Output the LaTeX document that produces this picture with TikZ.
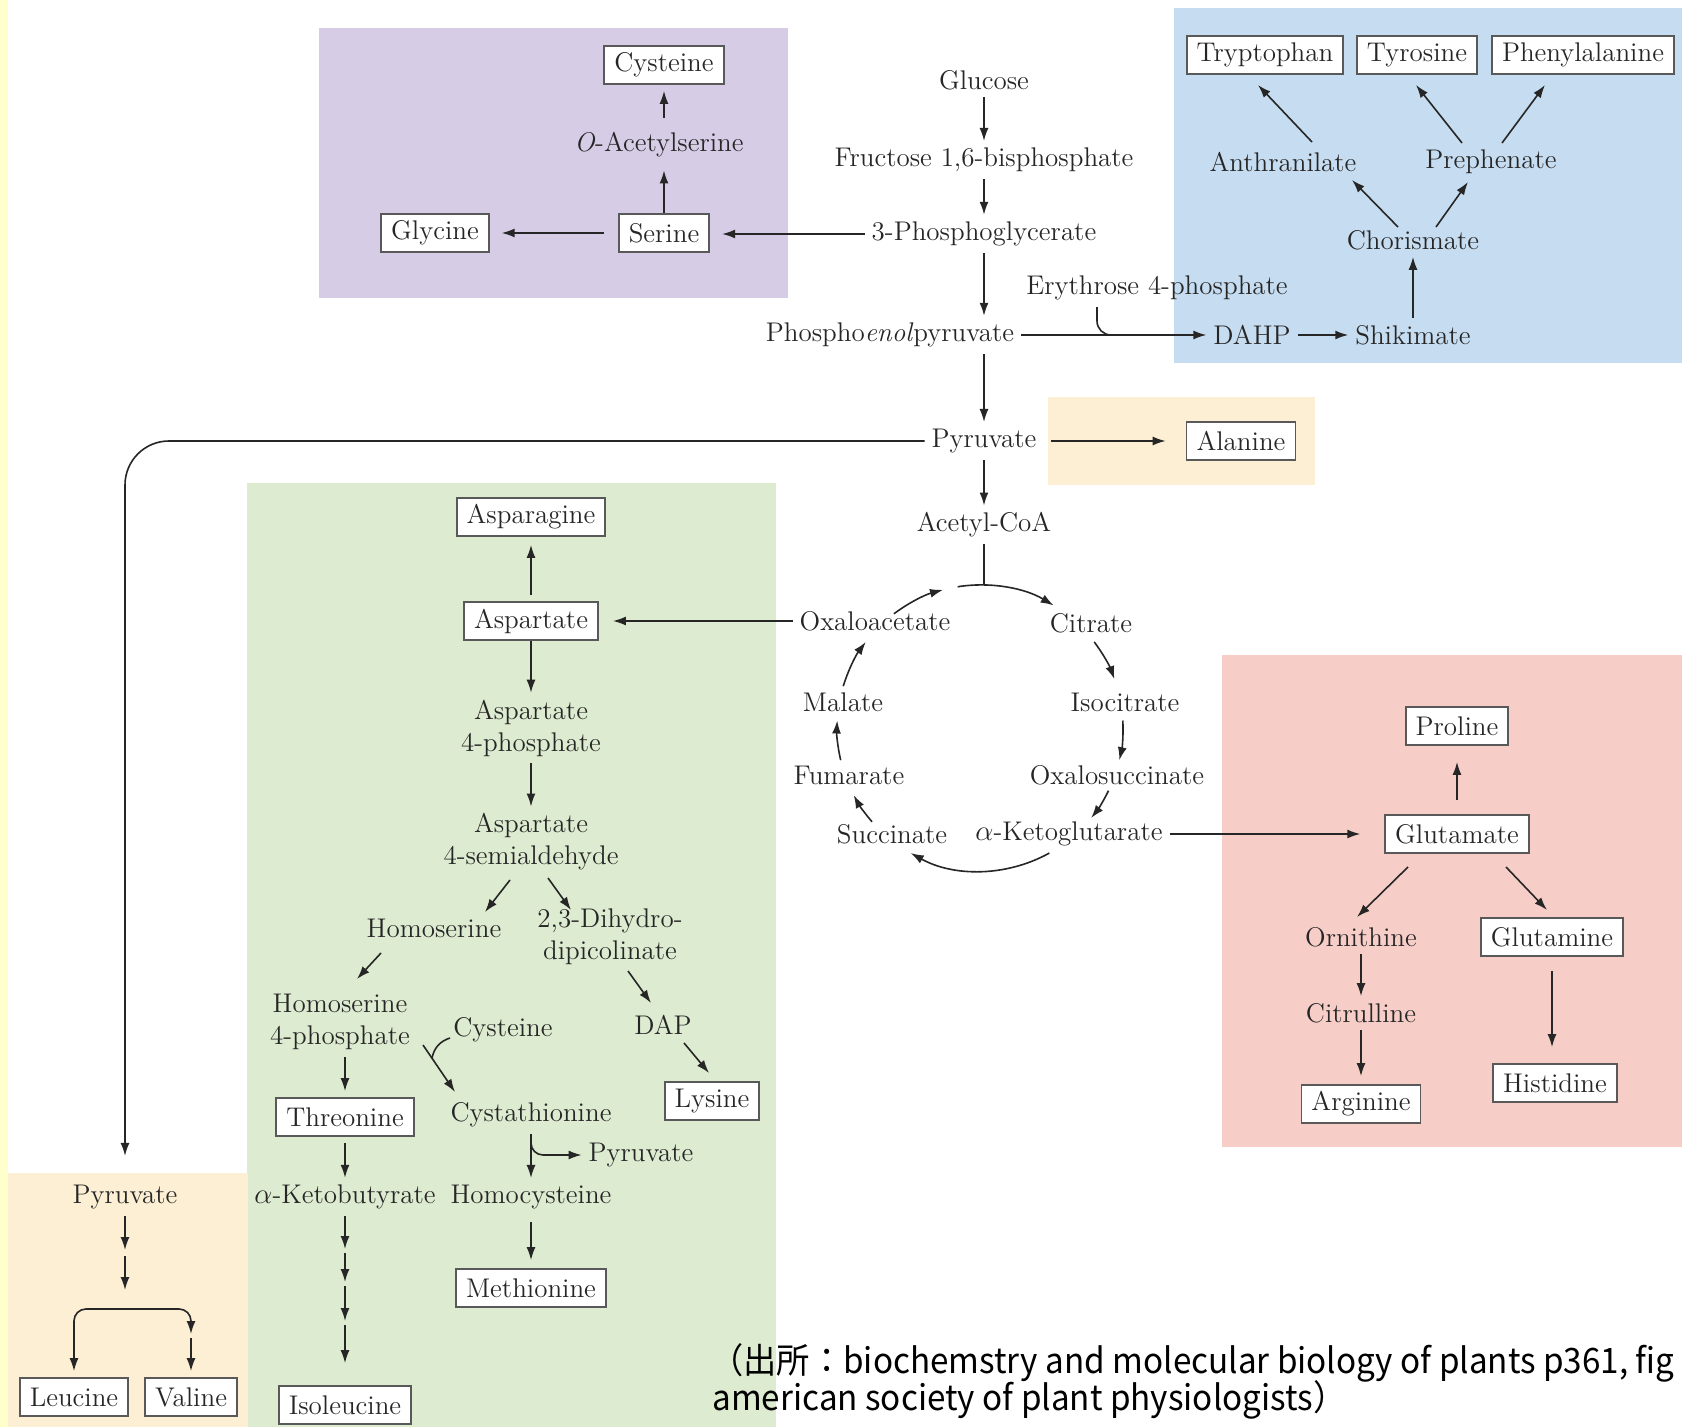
\documentclass[tikz,border=0pt]{standalone}
\usepackage{fontspec}
\newfontfamily\cjkfont[FakeStretch=0.95]{Noto Sans CJK JP}
\usepackage{xcolor}
\usepackage{tikz}
\usetikzlibrary{arrows.meta}
\usepackage{amsmath, amssymb}

\definecolor{serbg}{HTML}{D7CCE6}
\definecolor{arobg}{HTML}{C6DCF0}
\definecolor{pyrbg}{HTML}{FCEFD3}
\definecolor{aspbg}{HTML}{DDEBD0}
\definecolor{glubg}{HTML}{F7CDC8}
\definecolor{edgebg}{HTML}{FFFFCC}

\tikzset{
  lbl/.style={text=black!85, font=\fontsize{13.5}{16}\selectfont, align=center},
  aa/.style={lbl, draw=black!65, fill=white, line width=0.9pt, inner xsep=5pt, inner ysep=3pt, minimum height=19pt},
  arr/.style={draw=black!85, line width=0.8pt, -{Latex[length=6.5pt,width=4.5pt]}},
  conn/.style={draw=black!85, line width=0.8pt},
  src/.style={anchor=base west, inner sep=0pt, text=black, font=\cjkfont\fontsize{17.5}{20}\selectfont}
}

\begin{document}
\begin{tikzpicture}[x=0.5pt, y=0.5pt]
\useasboundingbox (0,0) rectangle (1682,-1427);
\clip (0,0) rectangle (1682,-1427);
%	coloured panels
\fill[white] (0,0) rectangle (1682,-1427);
\fill[edgebg] (0,0) rectangle (8,-1427);
\fill[serbg] (319,-28) rectangle (788,-298);
\fill[arobg] (1174,-8) rectangle (1682,-363);
\fill[pyrbg] (1048,-397) rectangle (1315,-485);
\fill[aspbg] (247,-483) rectangle (776,-1427);
\fill[glubg] (1222,-655) rectangle (1682,-1147);
\fill[pyrbg] (8,-1173) rectangle (248,-1427);

%	serine family
\node[aa] (cysA) at (664,-65) {Cysteine};
\node[lbl] (oas) at (659,-145) {\textit{O}-Acetylserine};
\node[aa] (ser) at (664,-233) {Serine};
\node[aa] (gly) at (435,-233) {Glycine};
%	glycolysis
\node[lbl] (glc) at (984,-80) {Glucose};
\node[lbl] (f16) at (984,-160) {Fructose 1,6-bisphosphate};
\node[lbl] (pg3) at (984,-234) {3-Phosphoglycerate};
\node[lbl] (pep) at (890,-335) {Phospho\textit{enol}pyruvate};
\node[lbl] (pyr) at (984,-441) {Pyruvate};
\node[lbl] (acoa) at (984,-525) {Acetyl-CoA};
%	aromatic family
\node[lbl] (e4p) at (1157,-288) {Erythrose 4-phosphate};
\node[lbl] (dahp) at (1252,-335) {DAHP};
\node[lbl] (shik) at (1413,-335) {Shikimate};
\node[lbl] (chor) at (1413,-240) {Chorismate};
\node[lbl] (anth) at (1283,-162) {Anthranilate};
\node[lbl] (preph) at (1491,-162) {Prephenate};
\node[aa] (trp) at (1265,-55) {Tryptophan};
\node[aa] (tyr) at (1417,-55) {Tyrosine};
\node[aa] (phe) at (1583,-55) {Phenylalanine};
%	pyruvate family
\node[aa] (ala) at (1241,-441) {Alanine};
\node[lbl] (pyrL) at (125,-1197) {Pyruvate};
\node[aa] (leu) at (74,-1397) {Leucine};
\node[aa] (val) at (191,-1397) {Valine};
%	TCA cycle
\node[lbl] (oaa) at (875,-621) {Oxaloacetate};
\node[lbl] (cit) at (1091,-623) {Citrate};
\node[lbl] (mal) at (843,-702) {Malate};
\node[lbl] (icit) at (1125,-702) {Isocitrate};
\node[lbl] (fum) at (849,-775) {Fumarate};
\node[lbl] (osuc) at (1117,-775) {Oxalosuccinate};
\node[lbl] (suc) at (892,-834) {Succinate};
\node[lbl] (akg) at (1069,-834) {$\alpha$-Ketoglutarate};
%	aspartate family
\node[aa] (asn) at (531,-517) {Asparagine};
\node[aa] (asp) at (531,-621) {Aspartate};
\node[lbl] (a4p) at (531,-728) {Aspartate\\4-phosphate};
\node[lbl] (a4s) at (531,-842) {Aspartate\\4-semialdehyde};
\node[lbl] (hser) at (434,-928) {Homoserine};
\node[lbl] (dhdp) at (610,-937) {2,3-Dihydro-\\dipicolinate};
\node[lbl] (h4p) at (340,-1022) {Homoserine\\4-phosphate};
\node[lbl] (cysB) at (503,-1030) {Cysteine};
\node[lbl] (dap) at (663,-1025) {DAP};
\node[aa] (lys) at (712,-1101) {Lysine};
\node[aa] (thr) at (345,-1117) {Threonine};
\node[lbl] (cysta) at (531,-1115) {Cystathionine};
\node[lbl] (pyrG) at (641,-1155) {Pyruvate};
\node[lbl] (akb) at (345,-1197) {$\alpha$-Ketobutyrate};
\node[lbl] (hcys) at (531,-1197) {Homocysteine};
\node[aa] (met) at (531,-1288) {Methionine};
\node[aa] (ile) at (345,-1405) {Isoleucine};
%	glutamate family
\node[aa] (pro) at (1457,-726) {Proline};
\node[aa] (glu) at (1457,-834) {Glutamate};
\node[lbl] (orn) at (1361,-937) {Ornithine};
\node[aa] (gln) at (1552,-937) {Glutamine};
\node[lbl] (citr) at (1361,-1013) {Citrulline};
\node[aa] (arg) at (1361,-1104) {Arginine};
\node[aa] (his) at (1555,-1083) {Histidine};
%	source
\node[src] (srcA) at (710,-1373) {（出所：biochemstry and molecular biology of plants p361, fig};
\node[src] (srcB) at (712,-1410) {american society of plant physiologists）};

%	glycolysis arrows
\draw[arr] (glc) -- (f16);
\draw[arr] (f16) -- (pg3);
\draw[arr] (pg3) -- (pg3 |- pep.north);
\draw[arr] (pep.south -| pyr) -- (pyr);
\draw[arr] (pyr) -- (acoa);
%	serine arrows
\draw[arr, shorten >=6pt] (pg3.west) -- (pg3.west -| ser.east);
\draw[arr, shorten <=7pt, shorten >=6pt] (ser) -- (gly);
\draw[arr, shorten >=3pt] (ser) -- (ser |- oas.south);
\draw[arr, shorten <=4pt, shorten >=3pt] (oas.north -| cysA) -- (cysA);
%	aromatic arrows
\coordinate (e4pj) at (1112,-335);
\draw[arr] (pep) -- (dahp);
\draw[conn, rounded corners=7pt] ([xshift=-30pt]e4p.south) |- (e4pj);
\draw[arr] (dahp) -- (shik);
\draw[arr] (shik) -- (chor);
\draw[arr] ([shift={(-15,13)}]chor.center) -- ([shift={(69,-18)}]anth.center);
\draw[arr] ([shift={(23,13)}]chor.center) -- ([shift={(-23,-20)}]preph.center);
\draw[arr] ([shift={(29,20)}]anth.center) -- ([shift={(-7,-30)}]trp.center);
\draw[arr] ([shift={(-29,19)}]preph.center) -- ([shift={(-1,-30)}]tyr.center);
\draw[arr] ([shift={(11,19)}]preph.center) -- ([shift={(-38,-30)}]phe.center);
%	pyruvate arrows
\coordinate (lvA) at (125,-1250);
\coordinate (lvB) at (125,-1290);
\coordinate (lvC) at (125,-1309);
\coordinate (lvD) at (191,-1334);
\draw[arr, shorten <=4pt, shorten >=10pt] (pyr) -- (ala);
\draw[arr, rounded corners=22pt, shorten >=11pt] (pyr) -| (pyrL);
\draw[arr] (pyrL) -- (lvA);
\draw[arr, shorten <=3pt] (lvA) -- (lvB);
\draw[arr, rounded corners=6pt, shorten >=3pt] (lvC) -| (leu);
\draw[arr, rounded corners=6pt] (lvC) -| (lvD);
\draw[arr, shorten <=2pt, shorten >=3pt] (lvD) -- (val);
%	TCA cycle arrows
\coordinate (tca) at (980,-728);
\coordinate (tcatop) at (984,-585);
\draw[conn] (acoa) -- (tcatop);
\draw[arr] ([shift={(163:143)}]tca) arc[start angle=163, end angle=143, radius=143];
\draw[arr] ([shift={(127:143)}]tca) arc[start angle=127, end angle=105, radius=143];
\draw[arr] ([shift={(99:143)}]tca) arc[start angle=99, end angle=59, radius=143];
\draw[arr] ([shift={(37:143)}]tca) arc[start angle=37, end angle=20, radius=143];
\draw[arr] ([shift={(3:143)}]tca) arc[start angle=3, end angle=-13, radius=143];
\draw[arr] ([shift={(-26:143)}]tca) arc[start angle=-26, end angle=-39, radius=143];
\draw[arr] ([shift={(-61:143)}]tca) arc[start angle=-61, end angle=-119, radius=143];
\draw[arr] ([shift={(221:143)}]tca) arc[start angle=221, end angle=208, radius=143];
\draw[arr] ([shift={(193:143)}]tca) arc[start angle=193, end angle=177, radius=143];
\draw[arr, shorten >=7pt] (oaa) -- (asp);
\draw[arr, shorten >=12pt] (akg) -- (glu);
%	aspartate arrows
\coordinate (ileA) at (345,-1249);
\coordinate (ileB) at (345,-1282);
\coordinate (ileC) at (345,-1321);
\draw[arr, shorten <=3pt, shorten >=4pt] (asp) -- (asn);
\draw[arr] (asp) -- (a4p);
\draw[arr] (a4p) -- (a4s);
\draw[arr] ([shift={(-21,-38)}]a4s.center) -- ([shift={(51,16)}]hser.center);
\draw[arr] ([shift={(17,-36)}]a4s.center) -- ([shift={(-39,27)}]dhdp.center);
\draw[arr] ([shift={(-53,-25)}]hser.center) -- ([shift={(17,43)}]h4p.center);
\draw[arr] ([shift={(18,-34)}]dhdp.center) -- ([shift={(-12,22)}]dap.center);
\draw[arr] ([shift={(21,-18)}]dap.center) -- ([shift={(-3,28)}]lys.center);
\draw[arr, shorten >=3pt] (h4p.south -| thr) -- (thr);
\draw[arr] ([shift={(83,-23)}]h4p.center) -- ([shift={(-76,23)}]cysta.center);
\draw[conn] ([shift={(-53,-8)}]cysB.center) to[bend right=30] ([shift={(-71,-28)}]cysB.center);
\draw[arr] (cysta) -- (hcys);
\draw[arr, rounded corners=6pt] (cysta.south) |- (pyrG);
\draw[arr, shorten <=3pt, shorten >=4pt] (hcys) -- (met);
\draw[arr, shorten <=3pt] (thr) -- (akb);
\draw[arr] (akb) -- (ileA);
\draw[arr, shorten <=2pt] (ileA) -- (ileB);
\draw[arr, shorten <=2pt] (ileB) -- (ileC);
\draw[arr, shorten <=2pt, shorten >=11pt] (ileC) -- (ile);
%	glutamate arrows
\draw[arr, shorten <=7pt, shorten >=8pt] (glu) -- (pro);
\draw[arr] ([shift={(-49,-33)}]glu.center) -- ([shift={(-4,20)}]orn.center);
\draw[arr] ([shift={(49,-33)}]glu.center) -- ([shift={(-5,27)}]gln.center);
\draw[arr] (orn) -- (citr);
\draw[arr, shorten >=4pt] (citr) -- (arg);
\draw[arr, shorten <=7pt, shorten >=8pt] (gln) -- (gln |- his.north);
\end{tikzpicture}
\end{document}
